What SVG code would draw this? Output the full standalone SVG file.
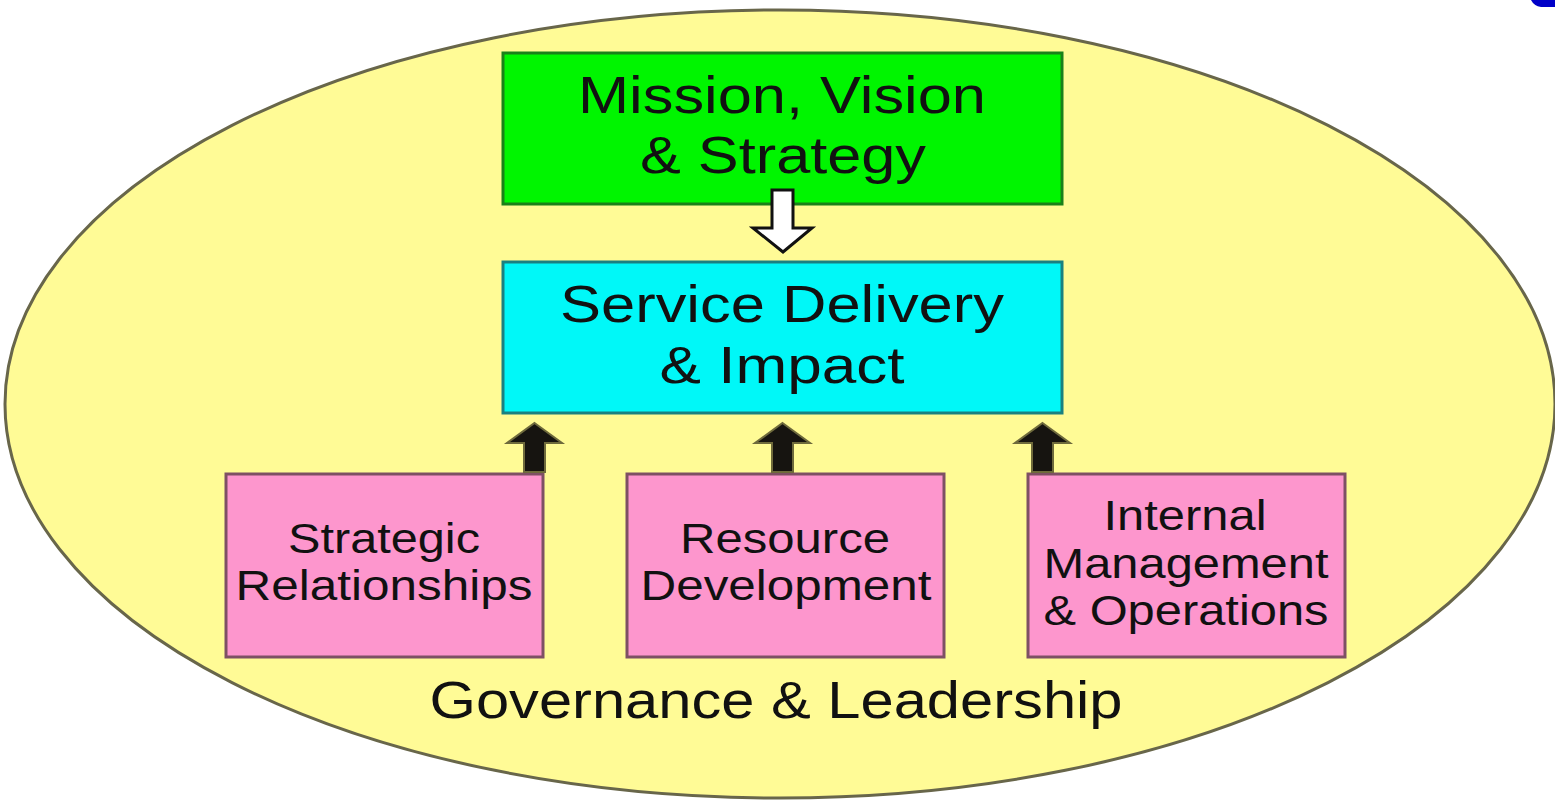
<svg xmlns="http://www.w3.org/2000/svg" width="1555" height="803" viewBox="0 0 1555 803">
  <style>
    .lbl { font-family: "Liberation Sans", Arial, sans-serif; fill: #111; text-anchor: middle; }
    .big { font-size: 52px; }
    .mid { font-size: 42px; }
    .box { stroke-width: 3; }
    .green { fill: #00f500; stroke: #1a801a; }
    .cyan { fill: #00f8f8; stroke: #1a8080; }
    .pink { fill: #fd96cd; stroke: #7e5064; }
    .up { fill: #161410; stroke: #6e6a3c; stroke-width: 2; stroke-linejoin: miter; }
    .down { fill: #ffffff; stroke: #111; stroke-width: 3; }
  </style>

  <rect x="0" y="0" width="1555" height="803" fill="#ffffff"/>
  <!-- blue corner fragment -->
  <path d="M1531,0 H1555 V7 H1541 Q1534,6 1531,0 Z" fill="#0000c8"/>

  <!-- outer governance ellipse -->
  <g id="governance">
    <ellipse cx="780" cy="404" rx="775" ry="394" fill="#fffb96" stroke="#68664a" stroke-width="3"/>
    <text class="lbl big" x="776" y="718" font-size="48" textLength="693" lengthAdjust="spacingAndGlyphs">Governance &amp; Leadership</text>
  </g>

  <g id="mission">
    <rect class="box green" x="503" y="53" width="559" height="151"/>
    <text class="lbl big" x="782" y="113" textLength="408" lengthAdjust="spacingAndGlyphs">Mission, Vision</text>
    <text class="lbl big" x="783" y="173" textLength="286" lengthAdjust="spacingAndGlyphs">&amp; Strategy</text>
  </g>

  <g id="service">
    <rect class="box cyan" x="503" y="262" width="559" height="151"/>
    <text class="lbl big" x="782" y="322" textLength="444" lengthAdjust="spacingAndGlyphs">Service Delivery</text>
    <text class="lbl big" x="782" y="383" textLength="245" lengthAdjust="spacingAndGlyphs">&amp; Impact</text>
  </g>

  <g id="strategic">
    <rect class="box pink" x="226" y="474" width="317" height="183"/>
    <text class="lbl mid" x="384" y="553" textLength="192" lengthAdjust="spacingAndGlyphs">Strategic</text>
    <text class="lbl mid" x="384" y="600" textLength="297" lengthAdjust="spacingAndGlyphs">Relationships</text>
  </g>

  <g id="resource">
    <rect class="box pink" x="627" y="474" width="317" height="183"/>
    <text class="lbl mid" x="785" y="553" textLength="210" lengthAdjust="spacingAndGlyphs">Resource</text>
    <text class="lbl mid" x="786" y="600" textLength="291" lengthAdjust="spacingAndGlyphs">Development</text>
  </g>

  <g id="internal">
    <rect class="box pink" x="1028" y="474" width="317" height="183"/>
    <text class="lbl mid" x="1185" y="530" textLength="163" lengthAdjust="spacingAndGlyphs">Internal</text>
    <text class="lbl mid" x="1186" y="578" textLength="285" lengthAdjust="spacingAndGlyphs">Management</text>
    <text class="lbl mid" x="1186" y="625" textLength="285" lengthAdjust="spacingAndGlyphs">&amp; Operations</text>
  </g>

  <!-- connectors drawn on top of the boxes -->
  <g id="connectors">
    <path class="down" d="M772,190 H793 V228 H812 L783,252 L753,228 H772 Z"/>
    <path class="up" d="M534.5,423 L562,443 H545 V472 H524 V443 H507 Z"/>
    <path class="up" d="M782.5,423 L810,443 H793 V472 H772 V443 H755 Z"/>
    <path class="up" d="M1042.5,423 L1070,443 H1053 V472 H1032 V443 H1015 Z"/>
  </g>
</svg>
